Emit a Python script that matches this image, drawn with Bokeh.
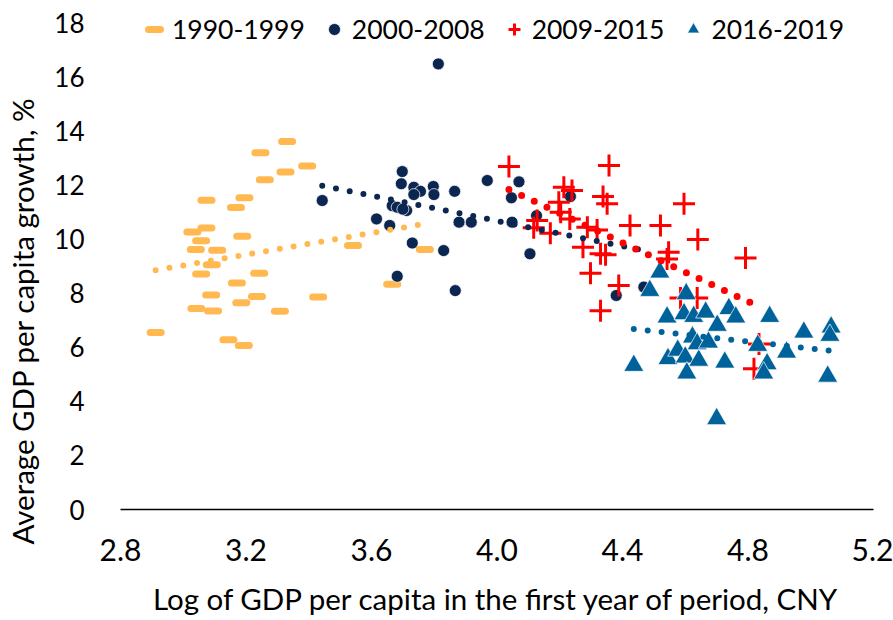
import numpy as np
from bokeh.plotting import figure
from bokeh.models import FixedTicker, Legend, LegendItem, Title
from bokeh.embed import file_html
from bokeh.resources import INLINE

# ---------------- data ----------------
x_1990 = [3.331, 3.246, 3.395, 3.326, 3.260, 3.074, 3.195, 3.168, 3.029, 3.074, 3.057,
          3.188, 3.040, 3.108, 3.091, 3.057, 3.242, 3.171, 3.089, 3.235, 3.185, 3.430,
          3.042, 3.095, 3.308, 2.912, 3.144, 3.193, 3.541, 3.770, 3.666]
y_1990 = [13.60, 13.19, 12.70, 12.47, 12.19, 11.43, 11.52, 11.16, 10.26, 10.40, 9.93,
          10.10, 9.61, 9.58, 9.05, 8.70, 8.73, 8.37, 7.93, 7.87, 7.64, 7.85,
          7.43, 7.34, 7.33, 6.54, 6.27, 6.06, 9.76, 9.61, 8.33]

x_2000 = [3.813, 3.698, 3.695, 3.969, 3.735, 3.756, 3.797, 3.799, 3.865, 3.735, 3.443,
          3.666, 3.682, 3.712, 3.616, 3.658, 3.879, 3.918, 3.730, 3.830, 3.682, 3.867,
          4.070, 4.046, 4.126, 4.048, 4.105, 4.234, 4.468, 4.380, 3.700]
y_2000 = [16.47, 12.49, 12.04, 12.16, 11.91, 11.76, 11.94, 11.64, 11.76, 11.64, 11.42,
          11.23, 11.17, 11.05, 10.74, 10.50, 10.62, 10.62, 9.85, 9.57, 8.62, 8.09,
          12.11, 11.52, 10.86, 10.62, 9.45, 11.57, 8.22, 7.91, 11.10]

x_2009 = [4.038, 4.357, 4.213, 4.239, 4.338, 4.351, 4.197, 4.128, 4.117, 4.170, 4.232,
          4.203, 4.288, 4.319, 4.424, 4.521, 4.274, 4.330, 4.346, 4.298, 4.388, 4.330,
          4.596, 4.640, 4.547, 4.542, 4.792, 4.638, 4.585, 4.835, 4.819]
y_2009 = [12.68, 12.71, 11.91, 11.79, 11.57, 11.30, 11.36, 10.68, 10.41, 10.21, 10.74,
          10.99, 10.43, 10.33, 10.50, 10.50, 9.69, 9.45, 9.42, 8.73, 8.28, 7.35,
          11.30, 9.98, 9.51, 9.26, 9.30, 7.82, 7.82, 6.12, 5.20]

x_2016 = [4.519, 4.487, 4.603, 4.542, 4.596, 4.627, 4.665, 4.739, 4.761, 4.869, 4.702,
          4.623, 4.638, 4.674, 4.978, 5.065, 5.061, 4.831, 4.923, 4.436, 4.545, 4.576,
          4.600, 4.643, 4.726, 4.861, 4.850, 4.605, 5.054, 4.700]
y_2016 = [8.77, 8.09, 7.97, 7.11, 7.23, 7.13, 7.29, 7.42, 7.11, 7.13, 6.80,
          6.37, 6.12, 6.18, 6.55, 6.74, 6.43, 6.06, 5.81, 5.32, 5.57, 5.88,
          5.63, 5.51, 5.44, 5.38, 5.04, 5.04, 4.92, 3.35]

series_labels = ["1990-1999", "2000-2008", "2009-2015", "2016-2019"]
x_ticks = [2.8, 3.2, 3.6, 4.0, 4.4, 4.8, 5.2]
x_tick_labels = ["2.8", "3.2", "3.6", "4.0", "4.4", "4.8", "5.2"]
y_ticks = [0, 2, 4, 6, 8, 10, 12, 14, 16, 18]

ORANGE = "#FFB950"
NAVY = "#0B2650"
RED = "#FF0000"
BLUE = "#00629B"
FONT = "Lato"

# frame runs from y=8 to y=509 px; 0..18 occupies 487 px of it, the rest is head room
Y_TOP = 18 * 501 / 487

p = figure(width=893, height=620, x_range=(2.8, 5.2), y_range=(0, Y_TOP),
           output_backend="svg", toolbar_location=None,
           min_border_left=120, min_border_right=20, min_border_top=8,
           min_border_bottom=111)
p.xgrid.visible = False
p.ygrid.visible = False
p.outline_line_color = None
p.background_fill_color = "white"
p.border_fill_color = "white"

# axes
p.xaxis.ticker = FixedTicker(ticks=x_ticks)
p.xaxis.major_label_overrides = {t: l for t, l in zip(x_ticks, x_tick_labels)}
p.xaxis.axis_line_color = "black"
p.xaxis.axis_line_width = 1.5
p.xaxis.major_tick_line_color = None
p.xaxis.minor_tick_line_color = None
p.xaxis.major_label_standoff = 23
p.xaxis.major_label_text_font = FONT
p.xaxis.major_label_text_font_size = "30px"
p.xaxis.major_label_text_color = "black"
p.xaxis.axis_label = "Log of GDP per capita in the first year of period, CNY"
p.xaxis.axis_label_text_font = FONT
p.xaxis.axis_label_text_font_size = "29.5px"
p.xaxis.axis_label_text_font_style = "normal"
p.xaxis.axis_label_text_color = "black"
p.xaxis.axis_label_standoff = 17

p.yaxis.ticker = FixedTicker(ticks=y_ticks)
p.yaxis.axis_line_color = None
p.yaxis.major_tick_line_color = None
p.yaxis.minor_tick_line_color = None
p.yaxis.major_label_standoff = 30
p.yaxis.major_label_text_font = FONT
p.yaxis.major_label_text_font_size = "26px"
p.yaxis.major_label_text_color = "black"

# series
r1 = p.scatter(x=x_1990, y=y_1990, marker="dash", size=11, line_color=ORANGE,
               line_width=7, line_cap="round")
r2 = p.scatter(x=x_2000, y=y_2000, marker="circle", size=12, fill_color=NAVY,
               line_color="white", line_width=0.7)
r3 = p.scatter(x=x_2009, y=y_2009, marker="cross", size=22, line_color=RED,
               line_width=3)
r4 = p.scatter(x=x_2016, y=y_2016, marker="triangle", size=20, fill_color=BLUE,
               line_color="white", line_width=0.7)

# linear trend lines (least-squares fit of each series)
for xs, ys, col, lw in [(x_1990, y_1990, ORANGE, 6), (x_2000, y_2000, NAVY, 6),
                        (x_2009, y_2009, RED, 7), (x_2016, y_2016, BLUE, 6)]:
    k, b = np.polyfit(xs, ys, 1)
    xe = [min(xs), max(xs)]
    p.line(x=xe, y=[k * v + b for v in xe], line_color=col, line_width=lw,
           line_dash="0 14", line_cap="round")

# y axis title (white spacer + title in the left panel)
spacer = Title(text=".", text_color="white", text_font_size="5px", standoff=5)
ytitle = Title(text="Average GDP per capita growth, %", align="left", offset=-35,
               vertical_align="middle", standoff=0, text_font=FONT,
               text_font_size="29.5px", text_font_style="normal", text_color="black")
p.add_layout(spacer, "left")
p.add_layout(ytitle, "left")

legend = Legend(items=[LegendItem(label=series_labels[0], renderers=[r1]),
                       LegendItem(label=series_labels[1], renderers=[r2]),
                       LegendItem(label=series_labels[2], renderers=[r3]),
                       LegendItem(label=series_labels[3], renderers=[r4])],
                orientation="horizontal", location=(19, 464),
                label_text_font=FONT, label_text_font_size="26.5px",
                label_text_color="black", glyph_width=30, glyph_height=30,
                label_height=30, label_standoff=3, spacing=14, padding=0,
                margin=0, border_line_color=None, background_fill_alpha=0)
p.add_layout(legend, "center")

open("out.html", "w").write(file_html(p, INLINE))
